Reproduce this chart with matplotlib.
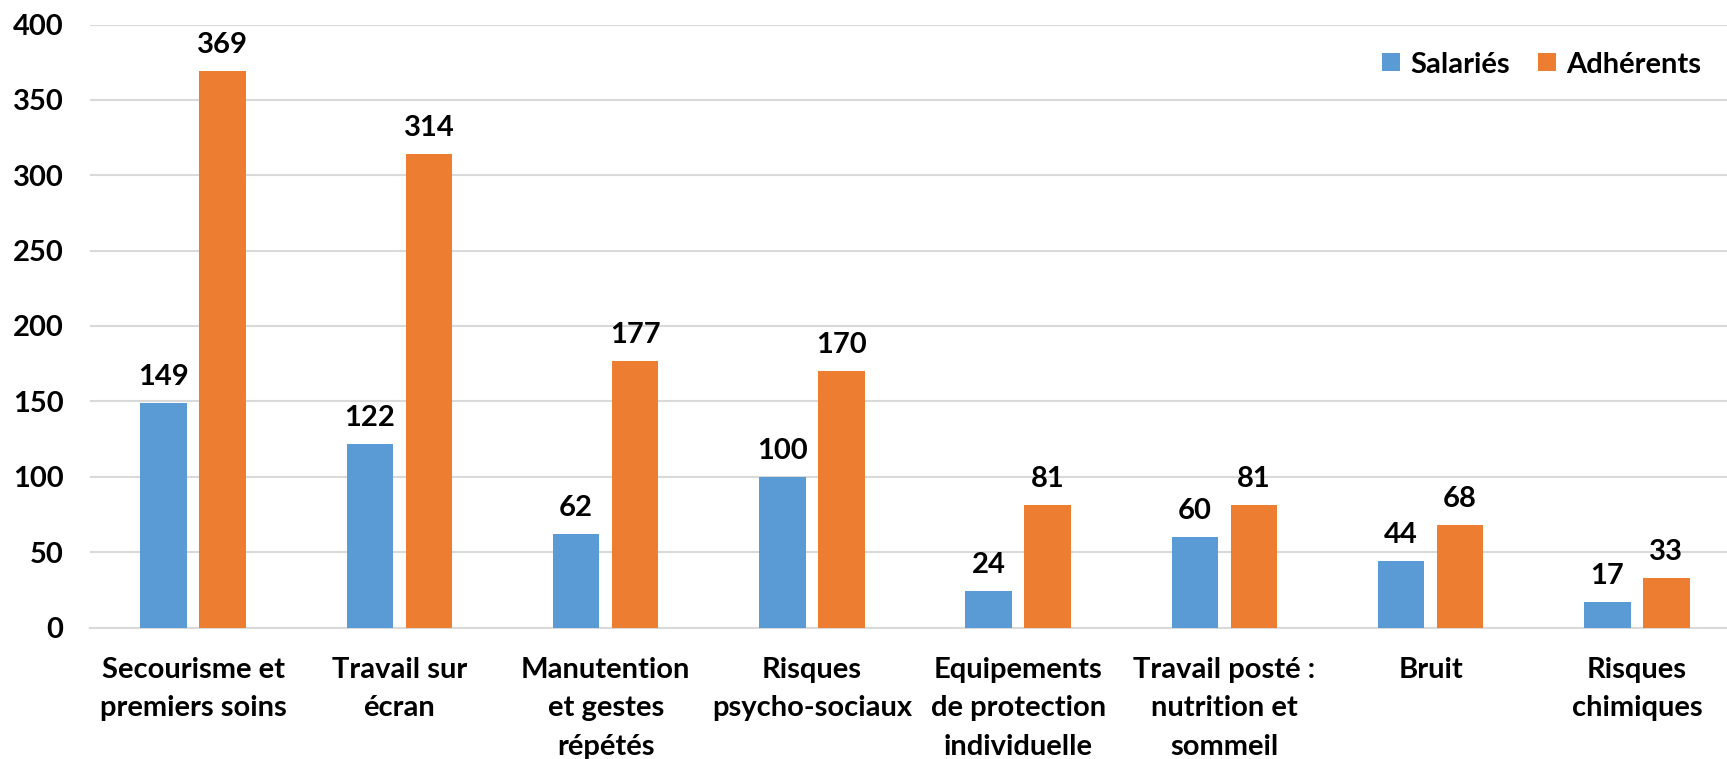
import numpy as np
import matplotlib
matplotlib.use("Agg")
import matplotlib.pyplot as plt

categories = ["Secourisme et\npremiers soins", "Travail sur\nécran", "Manutention\net gestes\nrépétés",
              "Risques\npsycho-sociaux", "Equipements\nde protection\nindividuelle",
              "Travail posté :\nnutrition et\nsommeil", "Bruit", "Risques\nchimiques"]
salaries = [149, 122, 62, 100, 24, 60, 44, 17]
adherents = [369, 314, 177, 170, 81, 81, 68, 33]
yticks = [0, 50, 100, 150, 200, 250, 300, 350, 400]

plt.rcParams['font.family'] = ['Lato', 'DejaVu Sans']
plt.rcParams['font.weight'] = 'bold'

blue = '#5B9BD5'
orange = '#ED7D31'

fig = plt.figure(figsize=(17.27, 7.59), dpi=100)
# axis spans from x=90px to ~1740px (slightly past the image edge)
ax = fig.add_axes([90 / 1727, 131.5 / 759, 1650 / 1727, 603 / 759])

x = np.arange(len(categories))
w = 0.225
off = 0.143
b1 = ax.bar(x - off, salaries, w, color=blue, label='Salariés', zorder=3)
b2 = ax.bar(x + off, adherents, w, color=orange, label='Adhérents', zorder=3)

for bars in (b1, b2):
    for r in bars:
        ax.annotate(f'{int(r.get_height())}', (r.get_x() + r.get_width() / 2, r.get_height()),
                    xytext=(0, 13), textcoords='offset points', ha='center', va='baseline',
                    fontsize=21, fontweight='bold', color='black')

ax.set_xlim(-0.5, len(categories) - 0.5)
ax.set_ylim(0, 400)
ax.set_yticks(yticks)
ax.set_yticklabels([str(v) for v in yticks], fontsize=21, fontweight='bold')
ax.set_xticks(x)
ax.set_xticklabels(categories, fontsize=21, fontweight='bold', linespacing=1.6, va='top')
ax.tick_params(axis='both', length=0)
ax.tick_params(axis='y', pad=19)
ax.tick_params(axis='x', pad=21)

ax.yaxis.grid(True, color='#d9d9d9', linewidth=1.5, zorder=0)
for s in ['top', 'right', 'left']:
    ax.spines[s].set_visible(False)
ax.spines['bottom'].set_color('#d9d9d9')
ax.spines['bottom'].set_linewidth(1.5)

fig.legend(handles=[b1, b2], loc='center right', bbox_to_anchor=(1.0, 0.915), ncol=2,
           frameon=False, fontsize=21, handlelength=0.6, handleheight=0.6,
           handletextpad=0.35, columnspacing=0.97)

fig.savefig('out.png', dpi=100)
